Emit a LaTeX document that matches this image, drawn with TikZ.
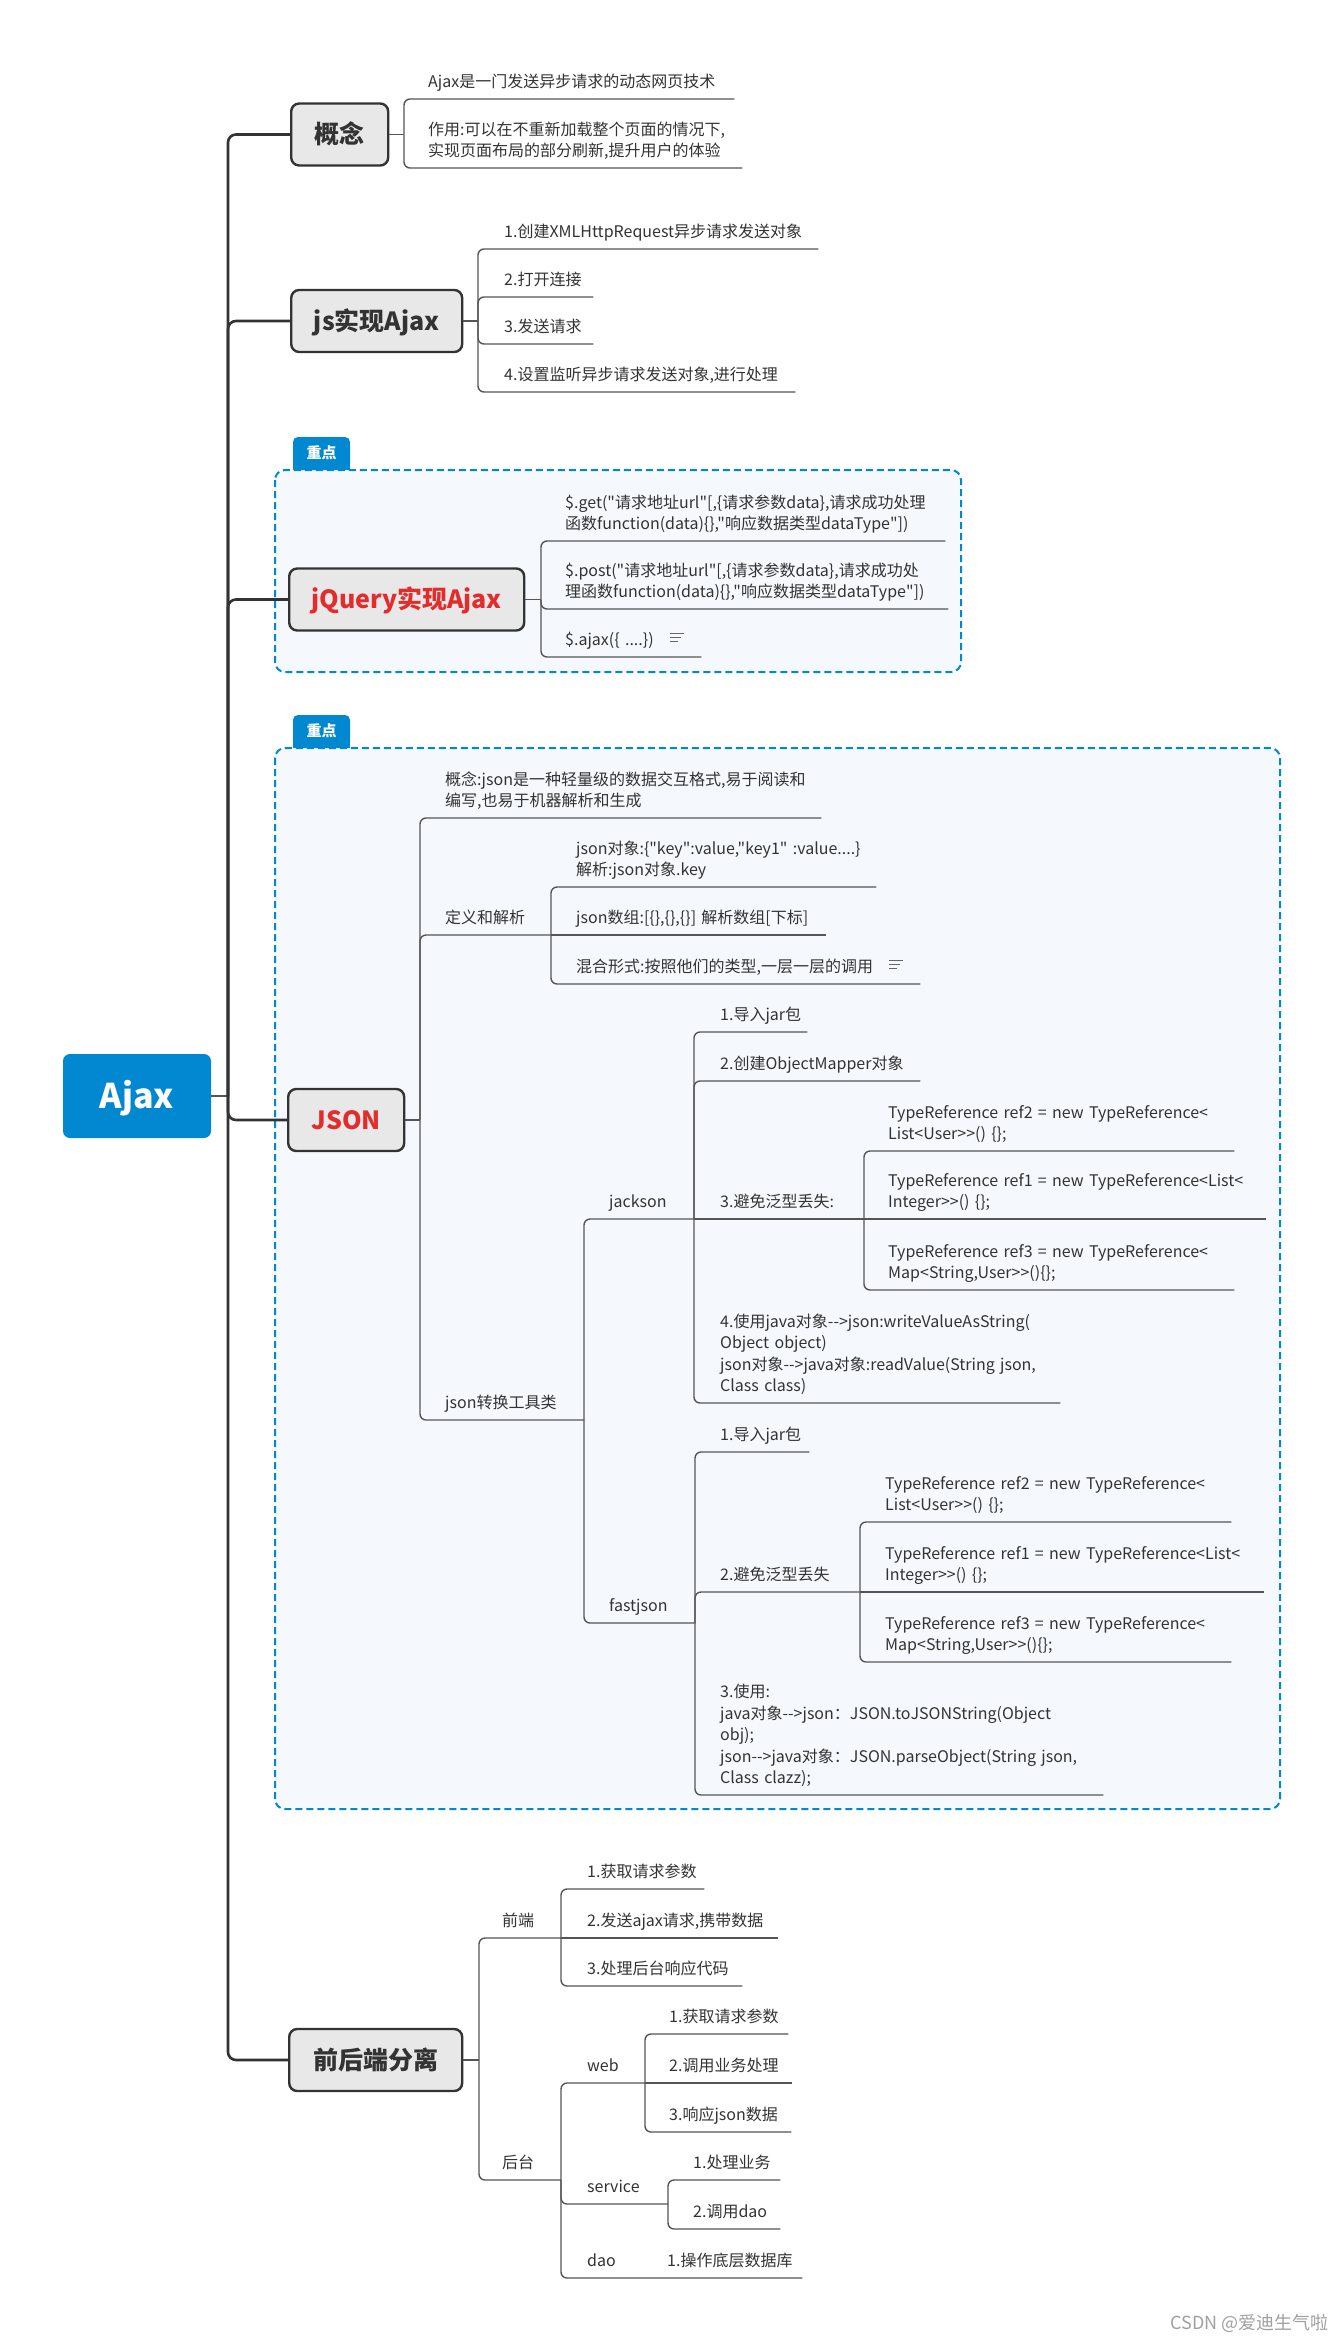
\documentclass[tikz,border=0pt]{standalone}
\usepackage{fontspec}
\usepackage{xcolor}
\usepackage{tikz}
\usetikzlibrary{backgrounds}

\newfontfamily\mmfont{Noto Sans CJK SC}
\definecolor{rootblue}{HTML}{0288D1}
\definecolor{focusfill}{HTML}{F5F9FD}
\definecolor{topicfill}{HTML}{E8E8E8}
\definecolor{inkgray}{HTML}{333333}
\definecolor{linegray}{HTML}{555555}
\definecolor{topicred}{HTML}{E32C2C}
\definecolor{notegray}{HTML}{666666}
\definecolor{markgray}{HTML}{A0A0A0}

\newcommand{\leaffont}{\mmfont\fontsize{16pt}{21.5pt}\selectfont}
\newcommand{\topicfont}{\mmfont\bfseries\fontsize{25pt}{30pt}\selectfont}
\newcommand{\rootfont}{\mmfont\bfseries\fontsize{34pt}{40pt}\selectfont}
\newcommand{\tagfont}{\mmfont\bfseries\fontsize{15pt}{18pt}\selectfont}
\newcommand{\markfont}{\mmfont\fontsize{18pt}{22pt}\selectfont}
\newcommand{\noteicon}{\hspace{16pt}\raisebox{3.5pt}{\color{notegray}\vbox{\hrule width 14pt height 1.7pt\vskip 2.3pt\hrule width 11pt height 1.7pt\vskip 2.3pt\hrule width 8pt height 1.7pt}}}

\begin{document}
\begin{tikzpicture}[
      x=1pt, y=-1pt,
      trunk/.style={draw=inkgray, line width=2.6pt, rounded corners=8pt},
      conn/.style={draw=linegray, line width=1.4pt, rounded corners=6pt},
      root/.style={fill=rootblue, text=white, rounded corners=7pt, minimum width=148pt, minimum height=84pt, font=\rootfont, text height=25pt, text depth=1pt},
      topic/.style={anchor=west, draw=inkgray, line width=2.4pt, fill=topicfill, text=inkgray, rounded corners=8pt, minimum width=#1, minimum height=62pt, inner xsep=0pt, font=\topicfont, text height=21pt, text depth=3pt},
      hot/.style={text=topicred},
      leaf/.style={anchor=south west, align=left, text width=#1, inner xsep=0pt, inner ysep=4.5pt, font=\leaffont, text=inkgray, execute at end node=\strut},
      focus/.style={draw=rootblue, line width=2pt, dash pattern=on 7pt off 4pt, fill=focusfill, rounded corners=10pt},
      tagbox/.style={fill=rootblue, text=white, rounded corners=5pt, minimum width=57pt, minimum height=33pt, inner sep=0pt, font=\tagfont, text height=11pt, text depth=1pt}
    ]
    \useasboundingbox (0,0) rectangle (1337,2341);

    % Root node and main topics
    \node[root] (ajax) at (137,1096) {Ajax};
    \coordinate (ajax-j) at (228,1096);
    \node[topic=97pt] (gainian) at (290,134.5) {概念};
    \node[topic=171pt] (jsajax) at (290,321) {js实现Ajax};
    \node[topic=235pt, hot] (jqajax) at (288,599.5) {jQuery实现Ajax};
    \node[topic=116pt, hot] (json) at (287,1120) {JSON};
    \node[topic=173pt] (sep) at (288,2060) {前后端分离};

    % Focus tags
    \node[tagbox] (tag1) at (321.5,453.5) {重点};
    \node[tagbox] (tag2) at (321.5,731.5) {重点};

    % Branch points
    \coordinate (gainian-j) at (404,134.5);
    \coordinate (jsajax-j) at (478,321);
    \coordinate (jqajax-j) at (541,599.5);
    \coordinate (json-j) at (420,1120);
    \coordinate (def-j) at (551,935);
    \coordinate (tool-j) at (584,1420);
    \coordinate (jack-j) at (694,1219);
    \coordinate (jgen-j) at (864,1219);
    \coordinate (fast-j) at (695,1623);
    \coordinate (fgen-j) at (860,1592);
    \coordinate (sep-j) at (479,2060);
    \coordinate (fe-j) at (561,1938);
    \coordinate (be-j) at (561,2180);
    \coordinate (web-j) at (645,2083);
    \coordinate (svc-j) at (668,2204);

    % 概念
    \node[leaf=306pt] (gn1) at (428,99) {Ajax是一门发送异步请求的动态网页技术};
    \node[leaf=314pt] (gn2) at (428,168) {作用:可以在不重新加载整个页面的情况下,\\实现页面布局的部分刷新,提升用户的体验};

    % js实现Ajax
    \node[leaf=314pt] (js1) at (504,249) {1.创建XMLHttpRequest异步请求发送对象};
    \node[leaf=89pt] (js2) at (504,297) {2.打开连接};
    \node[leaf=89pt] (js3) at (504,344) {3.发送请求};
    \node[leaf=291pt] (js4) at (504,392) {4.设置监听异步请求发送对象,进行处理};

    % jQuery实现Ajax
    \node[leaf=380pt] (jq1) at (565,541) {\$.get("请求地址url"[,\{请求参数data\},请求成功处理\\函数function(data)\{\},"响应数据类型dataType"])};
    \node[leaf=383pt] (jq2) at (565,609) {\$.post("请求地址url"[,\{请求参数data\},请求成功处\\理函数function(data)\{\},"响应数据类型dataType"])};
    \node[leaf=136pt] (jq3) at (565,657) {\$.ajax(\{ ....\})\noteicon};

    % JSON
    \node[leaf=376pt] (jn1) at (445,818) {概念:json是一种轻量级的数据交互格式,易于阅读和\\编写,也易于机器解析和生成};
    \node[leaf=85pt] (jn2) at (445,935) {定义和解析};
    \node[leaf=300pt] (def1) at (576,887) {json对象:\{"key":value,"key1" :value....\}\\解析:json对象.key};
    \node[leaf=250pt] (def2) at (576,935) {json数组:[\{\},\{\},\{\}] 解析数组[下标]};
    \node[leaf=344pt] (def3) at (576,984) {混合形式:按照他们的类型,一层一层的调用\noteicon};
    \node[leaf=125pt] (jn3) at (445,1420) {json转换工具类};

    % jackson
    \node[leaf=70pt] (jack) at (609,1219) {jackson};
    \node[leaf=87pt] (jack1) at (720,1032) {1.导入jar包};
    \node[leaf=200pt] (jack2) at (720,1081) {2.创建ObjectMapper对象};
    \node[leaf=120pt] (jack3) at (720,1219) {3.避免泛型丢失:};
    \node[leaf=346pt] (jg1) at (888,1151) {TypeReference ref2 = new TypeReference<\\List<User>>() \{\};};
    \node[leaf=378pt] (jg2) at (888,1219) {TypeReference ref1 = new TypeReference<List<\\Integer>>() \{\};};
    \node[leaf=346pt] (jg3) at (888,1290) {TypeReference ref3 = new TypeReference<\\Map<String,User>>()\{\};};
    \node[leaf=340pt] (jack4) at (720,1403) {4.使用java对象-->json:writeValueAsString(\\Object object)\\json对象-->java对象:readValue(String json,\\Class class)};

    % fastjson
    \node[leaf=75pt] (fast) at (609,1623) {fastjson};
    \node[leaf=89pt] (fast1) at (720,1452) {1.导入jar包};
    \node[leaf=115pt] (fast2) at (720,1592) {2.避免泛型丢失};
    \node[leaf=346pt] (fg1) at (885,1522) {TypeReference ref2 = new TypeReference<\\List<User>>() \{\};};
    \node[leaf=379pt] (fg2) at (885,1592) {TypeReference ref1 = new TypeReference<List<\\Integer>>() \{\};};
    \node[leaf=346pt] (fg3) at (885,1662) {TypeReference ref3 = new TypeReference<\\Map<String,User>>()\{\};};
    \node[leaf=383pt] (fast3) at (720,1795) {3.使用:\\java对象-->json：JSON.toJSONString(Object\\obj);\\json-->java对象：JSON.parseObject(String json,\\Class clazz);};

    % 前后端分离
    \node[leaf=40pt] (fe) at (502,1938) {前端};
    \node[leaf=117pt] (fe1) at (587,1889) {1.获取请求参数};
    \node[leaf=191pt] (fe2) at (587,1938) {2.发送ajax请求,携带数据};
    \node[leaf=155pt] (fe3) at (587,1986) {3.处理后台响应代码};
    \node[leaf=40pt] (be) at (502,2180) {后台};
    \node[leaf=40pt] (web) at (587,2083) {web};
    \node[leaf=119pt] (web1) at (669,2034) {1.获取请求参数};
    \node[leaf=123pt] (web2) at (669,2083) {2.调用业务处理};
    \node[leaf=122pt] (web3) at (669,2132) {3.响应json数据};
    \node[leaf=60pt] (svc) at (587,2204) {service};
    \node[leaf=87pt] (svc1) at (693,2180) {1.处理业务};
    \node[leaf=87pt] (svc2) at (693,2229) {2.调用dao};
    \node[leaf=30pt] (dao) at (587,2278) {dao};
    \node[leaf=135pt] (dao1) at (667,2278) {1.操作底层数据库};

    \node[anchor=east, inner sep=0pt, font=\markfont, text=markgray] (mark) at (1329,2323) {CSDN @爱迪生气啦};

    % Trunk
    \draw[conn] (ajax.east) -- (ajax-j);
    \foreach \t in {gainian,jsajax,jqajax,json,sep}
      \draw[trunk] (ajax-j) |- (\t.west);
    \foreach \t in {gainian,jsajax,jqajax,json,sep}
      \draw[conn] (\t.east) -- (\t-j);

    % Leaf connectors
    \foreach \c in {gn1,gn2}
      \draw[conn] (gainian-j) |- (\c.south west) -- (\c.south east);
    \foreach \c in {js1,js2,js3,js4}
      \draw[conn] (jsajax-j) |- (\c.south west) -- (\c.south east);
    \foreach \c in {jq1,jq2,jq3}
      \draw[conn] (jqajax-j) |- (\c.south west) -- (\c.south east);
    \draw[conn] (json-j) |- (jn1.south west) -- (jn1.south east);
    \draw[conn] (json-j) |- (jn2.south west) -- (def-j);
    \draw[conn] (json-j) |- (jn3.south west) -- (tool-j);
    \foreach \c in {def1,def3}
      \draw[conn] (def-j) |- (\c.south west) -- (\c.south east);
    \draw[conn] (def-j) -- (def2.south west) -- (def2.south east);
    \draw[conn] (tool-j) |- (jack.south west) -- (jack-j);
    \draw[conn] (tool-j) |- (fast.south west) -- (fast-j);
    \foreach \c in {jack1,jack2,jack4}
      \draw[conn] (jack-j) |- (\c.south west) -- (\c.south east);
    \draw[conn] (jack-j) -- (jack3.south west) -- (jgen-j);
    \foreach \c in {jg1,jg3}
      \draw[conn] (jgen-j) |- (\c.south west) -- (\c.south east);
    \draw[conn] (jgen-j) -- (jg2.south west) -- (jg2.south east);
    \foreach \c in {fast1,fast3}
      \draw[conn] (fast-j) |- (\c.south west) -- (\c.south east);
    \draw[conn] (fast-j) |- (fast2.south west) -- (fgen-j);
    \foreach \c in {fg1,fg3}
      \draw[conn] (fgen-j) |- (\c.south west) -- (\c.south east);
    \draw[conn] (fgen-j) -- (fg2.south west) -- (fg2.south east);
    \draw[conn] (sep-j) |- (fe.south west) -- (fe-j);
    \draw[conn] (sep-j) |- (be.south west) -- (be-j);
    \foreach \c in {fe1,fe3}
      \draw[conn] (fe-j) |- (\c.south west) -- (\c.south east);
    \draw[conn] (fe-j) -- (fe2.south west) -- (fe2.south east);
    \draw[conn] (be-j) |- (web.south west) -- (web-j);
    \draw[conn] (be-j) |- (svc.south west) -- (svc-j);
    \draw[conn] (be-j) |- (dao.south west) -- (dao1.south west) -- (dao1.south east);
    \foreach \c in {web1,web3}
      \draw[conn] (web-j) |- (\c.south west) -- (\c.south east);
    \draw[conn] (web-j) -- (web2.south west) -- (web2.south east);
    \foreach \c in {svc1,svc2}
      \draw[conn] (svc-j) |- (\c.south west) -- (\c.south east);

    % Focus frames
    \begin{scope}[on background layer]
      \fill[white] (0,0) rectangle (1337,2341);
      \draw[focus] (275,470) rectangle (961,672);
      \draw[focus] (275,748) rectangle (1280,1809);
      \fill[rootblue] ([yshift=6pt]tag1.south west) rectangle (tag1.south east);
      \fill[rootblue] ([yshift=6pt]tag2.south west) rectangle (tag2.south east);
    \end{scope}
  \end{tikzpicture}
\end{document}
